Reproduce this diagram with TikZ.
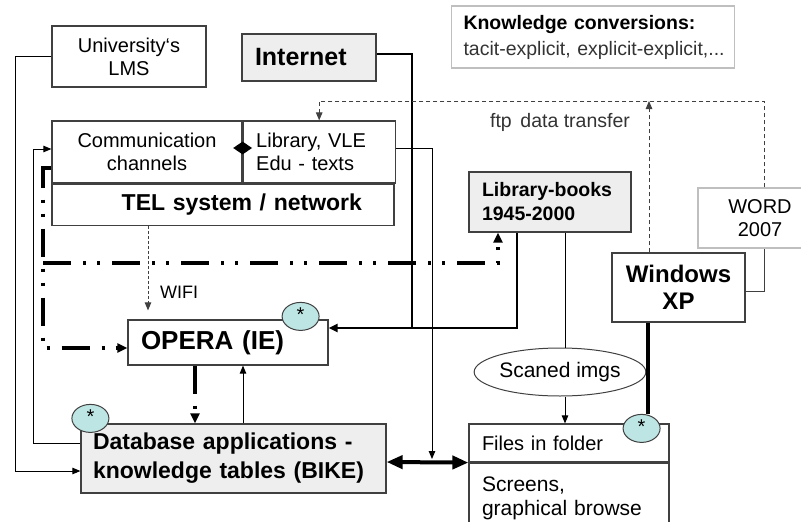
\documentclass[tikz,border=0pt]{standalone}
\usepackage{fontspec}
\setmainfont{Liberation Sans}
\usetikzlibrary{arrows.meta,positioning,shapes.geometric}

\definecolor{boxgray}{HTML}{EEEEEE}
\definecolor{edgegray}{HTML}{404040}
\definecolor{softgray}{HTML}{BFBFBF}
\definecolor{textgray}{HTML}{333333}
\definecolor{starcyan}{HTML}{BDE5E3}

\tikzset{
  box/.style={draw=edgegray, line width=1.2pt, inner sep=0pt, align=center,
    font=\fontsize{20}{23}\selectfont},
  lbox/.style={box, align=left, inner xsep=13pt},
  grey/.style={fill=boxgray},
  bubble/.style={ellipse, draw=edgegray, fill=starcyan, line width=1pt,
    minimum width=37pt, minimum height=28pt, inner sep=0pt,
    font=\fontsize{20}{20}\selectfont},
  wire/.style={line width=1pt},
  link/.style={wire, -{Triangle[length=8pt,width=6.5pt]}},
  heavy/.style={line width=2pt},
  feed/.style={line width=3.5pt,
    dash pattern=on 28pt off 12pt on 3pt off 11pt on 3pt off 12pt,
    -{Triangle[length=10pt,width=9pt]}},
  ftp/.style={line width=1pt, edgegray, dash pattern=on 4pt off 3pt},
}

\begin{document}
\begin{tikzpicture}[x=1pt, y=-1pt]

  \useasboundingbox (0,0) rectangle (801,522);

  % Define nodes
  \node[box, minimum width=154pt, minimum height=61pt] (lms) at (129,56.5) {University‘s\\LMS};
  \node[lbox, grey, text width=108pt, minimum height=47pt,
    font=\bfseries\fontsize{25}{28}\selectfont] (inet) at (309,57.5) {Internet};
  \node[lbox, draw=softgray, text width=259pt, inner xsep=12pt, minimum height=62pt,
    font=\fontsize{19.5}{26}\selectfont] (kc) at (593,37)
    {\mbox{\textbf{Knowledge conversions:}}\\\mbox{\textcolor{textgray}{tacit-explicit, explicit-explicit,...}}};

  \node[box, minimum width=190pt, minimum height=62pt] (comm) at (147,152) {Communication\\channels};
  \node[lbox, text width=126pt, minimum height=62pt, right=0pt of comm] (lib) {Library, VLE\\Edu - texts};
  \node[box, align=right, text width=278pt, inner xsep=32pt, minimum height=41pt,
    font=\bfseries\fontsize{23}{26}\selectfont,
    below=0pt of comm.south west, anchor=north west] (tel) {TEL system / network};
  \node[diamond, fill=black, minimum width=19pt, minimum height=13pt, inner sep=0pt]
    (dia) at ([yshift=4pt]lib.west) {};

  \node[lbox, grey, text width=136pt, minimum height=60pt,
    font=\bfseries\fontsize{19.5}{24}\selectfont] (books) at (550,202) {Library-books\\1945-2000};
  \node[box, draw=softgray, minimum width=124pt, minimum height=60pt] (word) at (760,218) {WORD\\2007};
  \node[box, minimum width=133pt, minimum height=69pt,
    font=\bfseries\fontsize{24}{27}\selectfont] (winxp) at (678.5,287.5) {Windows\\XP};
  \node[ellipse, draw=edgegray, line width=1pt, minimum width=142pt, minimum height=48pt,
    inner sep=0pt, font=\fontsize{21}{24}\selectfont] (scan) at (560,372) {Scaned imgs};
  \node[lbox, text width=174pt, minimum height=38pt] (files) at (569,443) {Files in folder};
  \node[lbox, text width=174pt, minimum height=70pt, font=\fontsize{21}{24}\selectfont,
    below=0pt of files] (screens) {Screens,\\graphical browse};

  \node[lbox, text width=174pt, minimum height=45pt,
    font=\bfseries\fontsize{26}{30}\selectfont] (opera) at (228,342.5) {OPERA (IE)};
  \node[lbox, grey, text width=281pt, inner xsep=12pt, minimum height=69pt,
    font=\bfseries\fontsize{23}{29}\selectfont] (db) at (233.5,458.5)
    {Database applications -\\knowledge tables (BIKE)};

  \node[font=\fontsize{18}{20}\selectfont, inner sep=0pt] (wifi) at (179,292) {WIFI};
  \node[font=\fontsize{19.5}{22}\selectfont, text=textgray, inner sep=0pt] (ftplabel) at (560,122) {ftp \,data transfer};

  \node[bubble] (asta) at ([shift={(-28pt,3pt)}]opera.north east) {\raisebox{4pt}{*}};
  \node[bubble] (astb) at ([shift={(10pt,5pt)}]db.north west) {\raisebox{4pt}{*}};
  \node[bubble] (astc) at ([shift={(-28pt,-5pt)}]files.north east) {\raisebox{4pt}{*}};

  % Connect the nodes
  \draw[link] (lms.west) -- ++(-36,0) |- ([yshift=-12.5pt]db.west);
  \draw[link] ([yshift=15.5pt]db.west) -- ++(-47,0) |- ([yshift=3pt]comm.west);

  \coordinate (split) at (43,263);
  \draw[feed] ([yshift=-16pt]comm.west) -| (split) |- ([yshift=-5.5pt]opera.west);
  \draw[feed] (split) -| ([xshift=-52pt]books.south);

  \coordinate (join) at (412,328);
  \draw[heavy, -{Triangle[length=9pt,width=8pt]}] ([yshift=4pt]inet.east) -| (join)
    -- ([yshift=14.5pt]opera.east);
  \draw[heavy] ([xshift=-33pt]books.south) |- (join);

  \coordinate (drop) at (432,459);
  \draw[link] ([yshift=4pt]lib.east) -| (drop);
  \draw[line width=4pt, {Triangle[length=16pt,width=13pt]}-{Triangle[length=16pt,width=13pt]}]
    ([yshift=-3.5pt]db.east) -- (files.south west);

  \draw[wire] ([xshift=15pt]books.south) -- ([xshift=5pt]scan.north);
  \draw[link] ([xshift=5pt]scan.south) -- ([xshift=-4pt]files.north);

  \draw[line width=4.5pt] ([xshift=-30.5pt]winxp.south) -- ([xshift=-30.5pt]winxp.south |- astc.north);
  \draw[wire, edgegray] ([yshift=-3.5pt]winxp.east) -| ([xshift=4pt]word.south);

  \coordinate (ftpturn) at (764,101);
  \draw[ftp, -{Triangle[length=8pt,width=6.5pt]}] ([xshift=4pt]word.north) -- (ftpturn) -| (lib.north);
  \draw[ftp, -{Triangle[length=8pt,width=6.5pt]}] ([xshift=-29.5pt]winxp.north)
    -- ([xshift=-29.5pt]winxp.north |- ftpturn);

  \draw[ftp, dash pattern=on 3pt off 2pt, shorten >=9pt, -{Triangle[length=8pt,width=6.5pt]}]
    ([xshift=-75pt]tel.south) -- ([xshift=-80pt]opera.north);

  \draw[feed] ([xshift=-33pt]opera.south) -- ([xshift=-33pt]opera.south |- db.north);
  \draw[link] ([xshift=15pt]opera.south |- db.north) -- ([xshift=15pt]opera.south);

\end{tikzpicture}
\end{document}
